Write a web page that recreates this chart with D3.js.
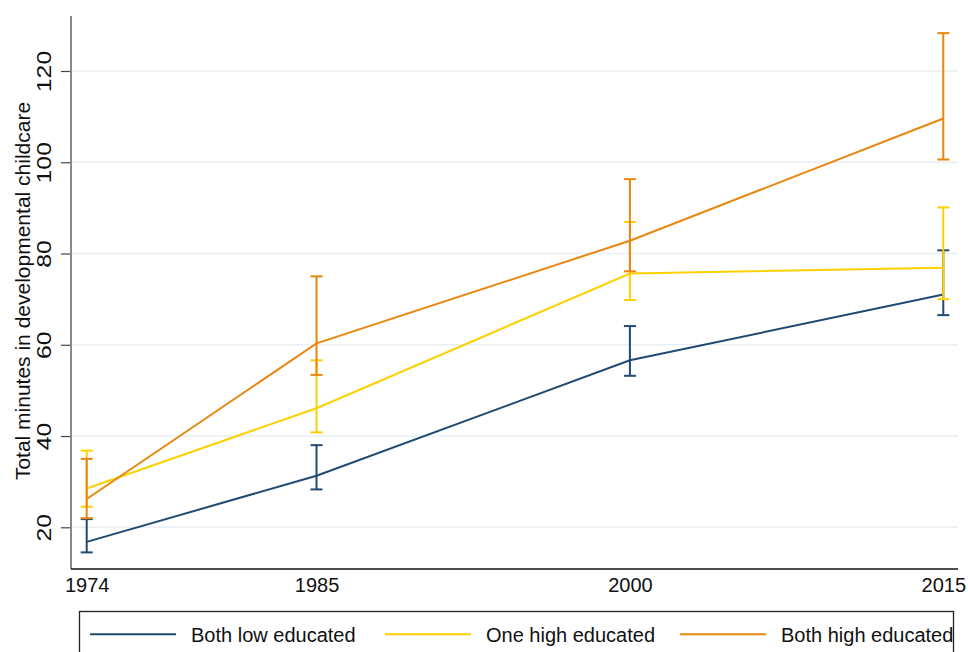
<!DOCTYPE html>
<html lang="en">
<head>
    <meta charset="UTF-8">
    <title>Developmental childcare by education</title>
    <script src="https://d3js.org/d3.v7.min.js"></script>
    <style>
        body {
            margin: 0;
            background: #fff;
            font-family: "Liberation Sans", Arial, sans-serif;
        }
        svg text {
            fill: #111;
        }
    </style>
</head>
<body>
    <svg id="chart" width="968" height="652"></svg>
    <script>
        // survey years and group estimates with 95% CI
        const years = [1974, 1985, 2000, 2015];
        const groups = ["Both low educated", "One high educated", "Both high educated"];
        const colors = ["#1f4a72", "#fdd100", "#e8860e"];

        const lowMean = [16.8, 31.3, 56.6, 71.0];
        const lowLo = [14.5, 28.3, 53.2, 66.5];
        const lowHi = [21.8, 38.0, 64.1, 80.7];

        const oneMean = [28.5, 46.1, 75.6, 76.9];
        const oneLo = [24.5, 40.8, 69.8, 70.0];
        const oneHi = [36.8, 56.6, 86.9, 90.1];

        const bothMean = [26.2, 60.3, 82.8, 109.6];
        const bothLo = [22.0, 53.4, 76.1, 100.6];
        const bothHi = [35.0, 75.0, 96.3, 128.3];

        const yTicks = [20, 40, 60, 80, 100, 120];

        const series = [
            { name: groups[0], color: colors[0], mean: lowMean, lo: lowLo, hi: lowHi },
            { name: groups[1], color: colors[1], mean: oneMean, lo: oneLo, hi: oneHi },
            { name: groups[2], color: colors[2], mean: bothMean, lo: bothLo, hi: bothHi }
        ];

        const svg = d3.select("#chart");

        const plotLeft = 71, plotRight = 958, plotTop = 16, plotBottom = 569;

        const x = d3.scaleLinear().domain([1974, 2015]).range([86.7, 943.3]);
        const y = d3.scaleLinear().domain([20, 120]).range([527.3, 71]);

        // gridlines
        svg.append("g")
            .selectAll("line")
            .data(yTicks)
            .enter()
            .append("line")
            .attr("x1", plotLeft)
            .attr("x2", plotRight)
            .attr("y1", d => y(d))
            .attr("y2", d => y(d))
            .attr("stroke", "#e9f0f3")
            .attr("stroke-width", 1.5);

        // y axis, labels turned like the original
        const yAxis = svg.append("g")
            .attr("transform", `translate(${plotLeft},0)`)
            .call(d3.axisLeft(y).tickValues(yTicks).tickSize(10).tickPadding(0));
        yAxis.select(".domain").remove();
        yAxis.selectAll(".tick line").attr("stroke", "#444").attr("stroke-width", 1.2);
        yAxis.selectAll(".tick text")
            .attr("x", 0)
            .attr("y", 0)
            .attr("dy", null)
            .attr("transform", "translate(-20,0) rotate(-90) scale(1.18,1)")
            .attr("text-anchor", "middle")
            .attr("font-family", "'Liberation Sans', Arial, sans-serif")
            .attr("font-size", "21px");
        svg.append("line")
            .attr("x1", plotLeft).attr("x2", plotLeft)
            .attr("y1", plotTop).attr("y2", plotBottom)
            .attr("stroke", "#888").attr("stroke-width", 2);

        // x axis
        svg.append("line")
            .attr("x1", plotLeft).attr("x2", plotRight)
            .attr("y1", plotBottom).attr("y2", plotBottom)
            .attr("stroke", "#111").attr("stroke-width", 1.5);
        const xAxis = svg.append("g")
            .attr("transform", `translate(0,${plotBottom})`)
            .call(d3.axisBottom(x).tickValues(years).tickFormat(d3.format("d")).tickSize(0).tickPadding(9));
        xAxis.select(".domain").remove();
        xAxis.selectAll(".tick text")
            .attr("font-family", "'Liberation Sans', Arial, sans-serif")
            .attr("font-size", "20px");

        // axis title
        svg.append("text")
            .attr("transform", "translate(29.5,291) rotate(-90)")
            .attr("text-anchor", "middle")
            .attr("font-size", "21px")
            .text("Total minutes in developmental childcare");

        // lines and error bars
        const line = d3.line()
            .x((d, i) => x(years[i]))
            .y(d => y(d));

        const capHalf = 6;
        series.forEach(s => {
            const g = svg.append("g");
            g.append("path")
                .attr("d", line(s.mean))
                .attr("fill", "none")
                .attr("stroke", s.color)
                .attr("stroke-width", 2);

            years.forEach((yr, i) => {
                const cx = x(yr);
                g.append("line")
                    .attr("x1", cx).attr("x2", cx)
                    .attr("y1", y(s.lo[i])).attr("y2", y(s.hi[i]))
                    .attr("stroke", s.color).attr("stroke-width", 2);
                [s.lo[i], s.hi[i]].forEach(v => {
                    g.append("line")
                        .attr("x1", cx - capHalf).attr("x2", cx + capHalf)
                        .attr("y1", y(v)).attr("y2", y(v))
                        .attr("stroke", s.color).attr("stroke-width", 2);
                });
            });
        });

        // legend
        const legend = svg.append("g");
        legend.append("rect")
            .attr("x", 79.5).attr("y", 611.5)
            .attr("width", 874).attr("height", 60)
            .attr("fill", "#fff")
            .attr("stroke", "#222").attr("stroke-width", 1.3);

        const legendX = [90, 385, 680];
        series.forEach((s, i) => {
            legend.append("line")
                .attr("x1", legendX[i]).attr("x2", legendX[i] + 86)
                .attr("y1", 634.3).attr("y2", 634.3)
                .attr("stroke", s.color).attr("stroke-width", 2);
            legend.append("text")
                .attr("x", legendX[i] + 101)
                .attr("y", 641.5)
                .attr("font-size", "20px")
                .text(s.name);
        });
    </script>
</body>
</html>
